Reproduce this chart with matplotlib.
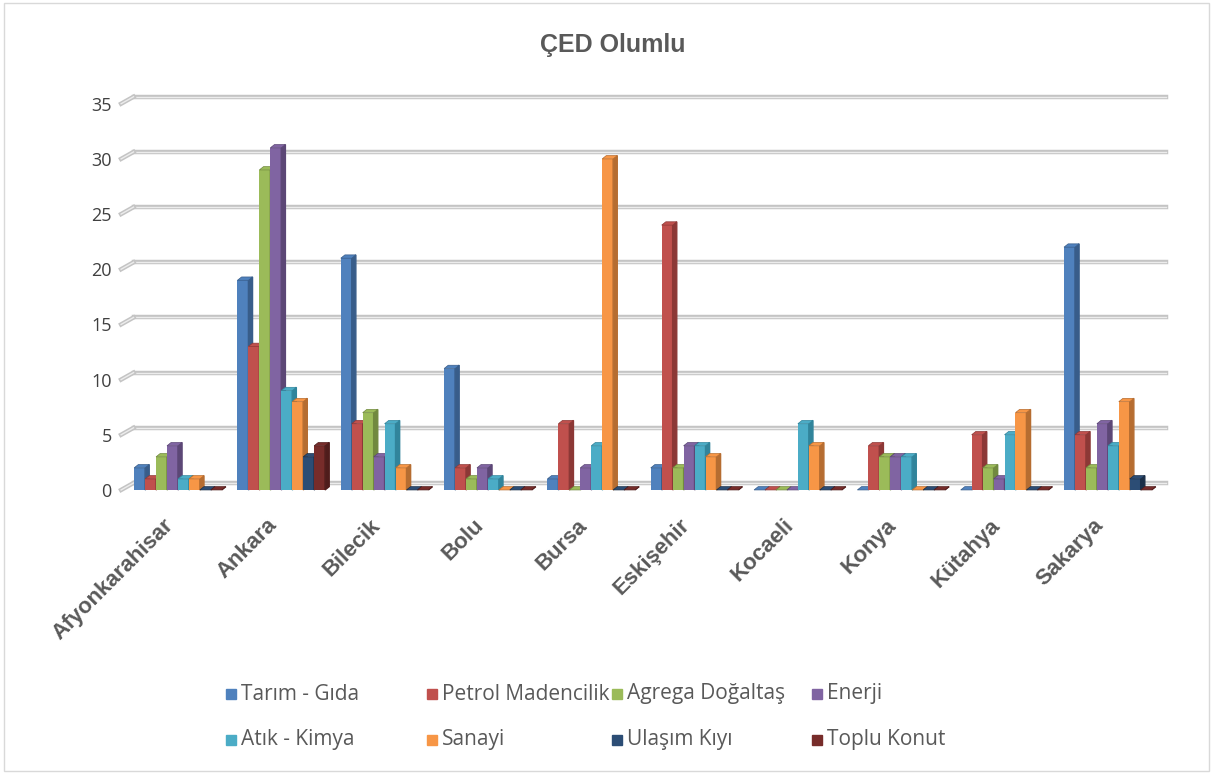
import matplotlib.pyplot as plt
from matplotlib.patches import Polygon, Rectangle
from matplotlib.transforms import ScaledTranslation
import numpy as np

cities = ['Afyonkarahisar', 'Ankara', 'Bilecik', 'Bolu', 'Bursa', 'Eskişehir',
          'Kocaeli', 'Konya', 'Kütahya', 'Sakarya']
series = ['Tarım - Gıda', 'Petrol Madencilik', 'Agrega Doğaltaş', 'Enerji',
          'Atık - Kimya', 'Sanayi', 'Ulaşım Kıyı', 'Toplu Konut']
tarim = [2, 19, 21, 11, 1, 2, 0, 0, 0, 22]
petrol = [1, 13, 6, 2, 6, 24, 0, 4, 5, 5]
agrega = [3, 29, 7, 1, 0, 2, 0, 3, 2, 2]
enerji = [4, 31, 3, 2, 2, 4, 0, 3, 1, 6]
atik = [1, 9, 6, 1, 4, 4, 6, 3, 5, 4]
sanayi = [1, 8, 2, 0, 30, 3, 4, 0, 7, 8]
ulasim = [0, 3, 0, 0, 0, 0, 0, 0, 0, 1]
konut = [0, 4, 0, 0, 0, 0, 0, 0, 0, 0]
values = [tarim, petrol, agrega, enerji, atik, sanayi, ulasim, konut]

colors = ['#4F81BD', '#C0504D', '#9BBB59', '#8064A2', '#4BACC6', '#F79646', '#2C4D75', '#772C2A']
sides = ['#385D8A', '#8C3836', '#71893F', '#5C4776', '#31849B', '#B66D31', '#1B2F48', '#4F1C1B']

plt.rcParams['font.family'] = ['Liberation Sans', 'DejaVu Sans']

fig = plt.figure(figsize=(12.13, 7.74), dpi=100)
ax = fig.add_axes([0.099, 0.367, 0.862, 0.499])
ax.set_xlim(-0.56, 9.56)
ax.set_ylim(0, 35)

# back wall grid lines (shifted for the 3d look)
gdx, gdy = 0.12, 0.63
for t in range(0, 36, 5):
    ax.plot([-0.55 + gdx, 9.56], [t + gdy, t + gdy], color='#c4c4c4', lw=3.2, zorder=1, clip_on=False)
    ax.plot([-0.55 + gdx, 9.56], [t + gdy, t + gdy], color='#ececec', lw=1.0, zorder=1, clip_on=False)
    ax.plot([-0.55, -0.55 + gdx], [t, t + gdy], color='#c4c4c4', lw=3.2, zorder=1, clip_on=False)
    ax.plot([-0.55, -0.55 + gdx], [t, t + gdy], color='#ececec', lw=1.0, zorder=1, clip_on=False)

w = 0.106
ddx, ddy = 0.04, 0.3
x = np.arange(len(cities))
for k in range(len(series)):
    xs = x + (k - 3.5) * w
    bars = ax.bar(xs, values[k], width=w, color=colors[k], zorder=3 + k, clip_on=False)
    for b in bars:
        x0 = b.get_x()
        x1 = x0 + b.get_width()
        h = b.get_height()
        side = Polygon([[x1, 0], [x1 + ddx, ddy], [x1 + ddx, h + ddy], [x1, h]],
                       closed=True, color=sides[k], zorder=3 + k, clip_on=False)
        top = Polygon([[x0, h], [x0 + ddx, h + ddy], [x1 + ddx, h + ddy], [x1, h]],
                      closed=True, color=colors[k], ec=sides[k], lw=0.5, zorder=3 + k, clip_on=False)
        ax.add_patch(side)
        ax.add_patch(top)

for s in ax.spines.values():
    s.set_visible(False)
ax.set_yticks(range(0, 36, 5))
ax.set_yticklabels([str(v) for v in range(0, 36, 5)], family=['Open Sans', 'DejaVu Sans'])
ax.tick_params(axis='y', length=0, labelsize=13, labelcolor='#404040', pad=6)
ax.set_xticks(x)
ax.set_xticklabels(cities, rotation=45, ha='right', rotation_mode='anchor',
                   fontsize=16, fontweight='bold', color='#595959')
ax.tick_params(axis='x', length=0, pad=18)
shift = ScaledTranslation(-0.15, 0, fig.dpi_scale_trans)
for lab in ax.get_xticklabels():
    lab.set_transform(lab.get_transform() + shift)

fig.text(0.505, 0.942, 'ÇED Olumlu', ha='center', va='center', fontsize=18,
         fontweight='bold', color='#595959')

# legend
lx = [226, 427, 612, 812]
ly = [694, 740]
for k, name in enumerate(series):
    px = lx[k % 4]
    py = ly[k // 4]
    fig.patches.append(Rectangle((px / 1213, (774 - py - 5) / 774), 10 / 1213, 10 / 774,
                                 transform=fig.transFigure, color=colors[k]))
    fig.text((px + 15) / 1213, (774 - py) / 774, name, ha='left', va='center',
             fontsize=15, color='#595959', family=['Open Sans', 'DejaVu Sans'])

fig.patches.append(Rectangle((0.003, 0.004), 0.994, 0.992, transform=fig.transFigure,
                             fill=False, ec='#d9d9d9', lw=1))

fig.savefig('out.png', dpi=100)
